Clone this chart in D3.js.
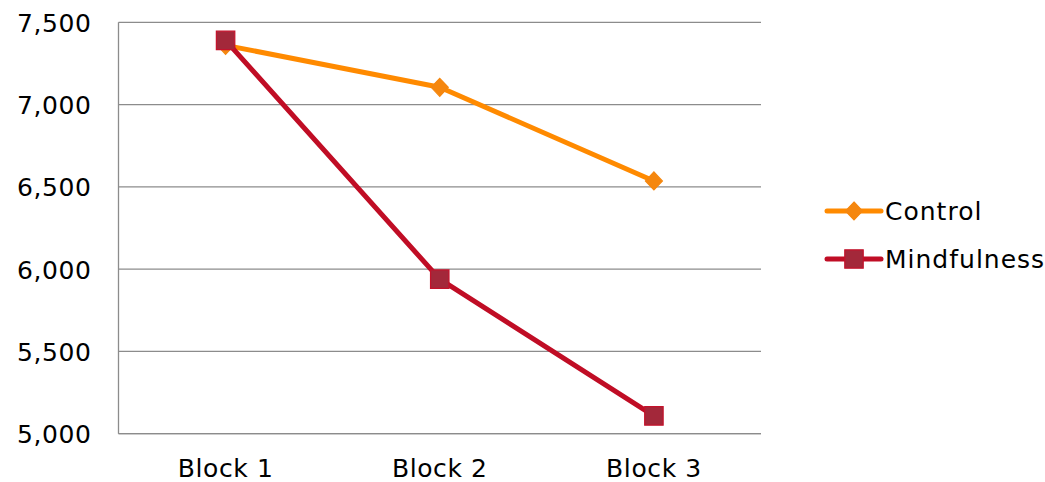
<!DOCTYPE html>
<html>
<head>
<meta charset="utf-8">
<script src="https://cdn.jsdelivr.net/npm/d3@7"></script>
<style>
	body { margin: 0; background: #fff; }
	svg text { font-family: "DejaVu Sans", Verdana, sans-serif; fill: #000; }
	.grid line { stroke: #8c8c8c; stroke-width: 1.3; }
	.axis path, .axis line { stroke: #8c8c8c; stroke-width: 1.3; }
</style>
</head>
<body>
<svg id="chart"></svg>
<script>
// Chart data
var categories = ["Block 1", "Block 2", "Block 3"];
var control = [7360, 7105, 6536];
var mindfulness = [7390, 5939, 5108];
var yTicks = [5000, 5500, 6000, 6500, 7000, 7500];
var seriesNames = ["Control", "Mindfulness"];

var width = 1045,
	height = 482,
	margin = {top: 22.3, right: 284, bottom: 48.3, left: 118.5};

var svg = d3.select("#chart")
	.attr("width", width)
	.attr("height", height);

var x = d3.scaleBand()
	.domain(categories)
	.range([margin.left, width - margin.right]);

var y = d3.scaleLinear()
	.domain([5000, 7500])
	.range([height - margin.bottom, margin.top]);

// Gridlines
svg.append("g")
	.classed("grid", true)
	.selectAll("line")
	.data(yTicks)
	.enter()
		.append("line")
			.attr("x1", margin.left)
			.attr("x2", width - margin.right)
			.attr("y1", function(d){ return y(d); })
			.attr("y2", function(d){ return y(d); });

// Left axis
var yAxis = svg.append("g")
	.classed("axis", true)
	.attr("transform", "translate(" + margin.left + ",0)")
	.call(d3.axisLeft(y).tickValues(yTicks).tickSize(0).tickPadding(27).tickFormat(d3.format(",")));
yAxis.selectAll("text").style("font-size", "25px").style("letter-spacing", "0.6px").attr("dy", "0.36em");

// Bottom axis
var xAxis = svg.append("g")
	.classed("axis", true)
	.attr("transform", "translate(0," + (height - margin.bottom) + ")")
	.call(d3.axisBottom(x).tickSize(0).tickPadding(26));
xAxis.selectAll("text").style("font-size", "25px").style("letter-spacing", "0.6px");
xAxis.select(".domain").attr("d", "M" + margin.left + ",0H" + (width - margin.right));
yAxis.select(".domain").attr("d", "M0," + margin.top + "V" + (height - margin.bottom));

var series = [
	{name: seriesNames[0], values: control, line: "#ff8a00", fill: "#f5870f", stroke: "#f5870f", shape: d3.symbolDiamond, size: 150},
	{name: seriesNames[1], values: mindfulness, line: "#c00d25", fill: "#a3283a", stroke: "#c4122b", shape: d3.symbolSquare, size: 340}
];

var line = d3.line()
	.x(function(d, i){ return x(categories[i]) + x.bandwidth() / 2; })
	.y(function(d){ return y(d); });

var diamond = function(){
	// diamond marker like the reference
	return "M0,-9L8.5,0L0,9L-8.5,0Z";
};

series.forEach(function(s){
	var g = svg.append("g");
	g.append("path")
		.datum(s.values)
		.attr("fill", "none")
		.attr("stroke", s.line)
		.attr("stroke-width", 5)
		.attr("stroke-linejoin", "round")
		.attr("d", line);
	g.selectAll("path.marker")
		.data(s.values)
		.enter()
			.append("path")
				.classed("marker", true)
				.attr("transform", function(d, i){ return "translate(" + (x(categories[i]) + x.bandwidth() / 2) + "," + y(d) + ")"; })
				.attr("d", s.shape === d3.symbolDiamond ? diamond() : d3.symbol().type(s.shape).size(s.size)())
				.attr("fill", s.fill)
				.attr("stroke", s.stroke)
				.attr("stroke-width", 1.2);
});

// Legend
var legend = svg.append("g")
	.selectAll("g")
	.data(series)
	.enter()
		.append("g")
			.attr("transform", function(d, i){ return "translate(827," + (211 + i * 48) + ")"; });

legend.append("line")
	.attr("x1", 0)
	.attr("x2", 54)
	.attr("stroke", function(d){ return d.line; })
	.attr("stroke-width", 5)
	.attr("stroke-linecap", "round");

legend.append("path")
	.attr("transform", "translate(27,0)")
	.attr("d", function(d){ return d.shape === d3.symbolDiamond ? diamond() : d3.symbol().type(d.shape).size(d.size)(); })
	.attr("fill", function(d){ return d.fill; })
	.attr("stroke", function(d){ return d.stroke; })
	.attr("stroke-width", 1.2);

legend.append("text")
	.attr("x", 58)
	.attr("dy", "0.36em")
	.style("font-size", "25px")
	.style("letter-spacing", "1px")
	.text(function(d){ return d.name; });
</script>
</body>
</html>
